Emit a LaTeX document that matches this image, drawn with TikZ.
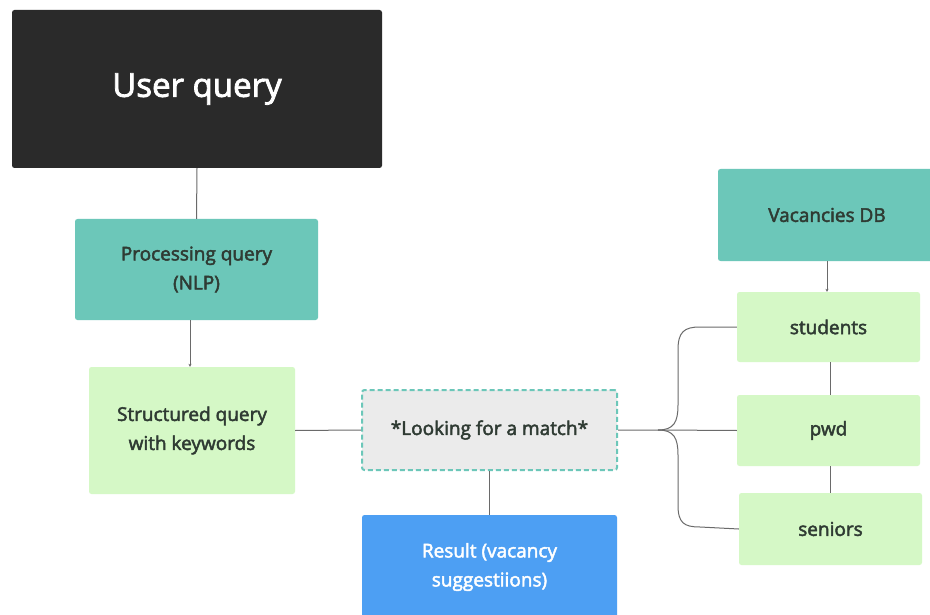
\documentclass[tikz,border=0pt]{standalone}
\usepackage{fontspec}
\setmainfont{Open Sans}[FakeBold=2.5]
\usetikzlibrary{arrows.meta}
\definecolor{darkbox}{HTML}{2A2A2A}
\definecolor{tealbox}{HTML}{6CC7B9}
\definecolor{greenbox}{HTML}{D5F8C6}
\definecolor{greybox}{HTML}{EBEBEB}
\definecolor{bluebox}{HTML}{4D9FF3}
\definecolor{linec}{HTML}{6A6A6A}
\definecolor{dashc}{HTML}{6CC7B9}
\definecolor{textdark}{HTML}{2F3B33}
\tikzset{
  box/.style={rounded corners=2.5pt, align=center, inner sep=0pt, font=\fontsize{19}{29}\selectfont},
  conn/.style={draw=linec, line width=1pt},
  tip/.style={conn, -{Stealth[length=3pt,width=3pt]}},
}
\begin{document}
\begin{tikzpicture}[x=1pt,y=-1pt]
\useasboundingbox (0,0) rectangle (930,615);
\fill[white] (0,0) rectangle (930,615);
% boxes
\node[box, fill=darkbox, minimum width=370pt, minimum height=158pt, text=white, font=\fontsize{33}{36}\selectfont] (user) at (197,89) {User query};
\node[box, fill=tealbox, minimum width=243pt, minimum height=101pt, text=textdark] (proc) at (196.5,269.5) {Processing query\\(NLP)};
\node[box, fill=greenbox, minimum width=206pt, minimum height=127pt, text=textdark] (struct) at (192,430.5) {Structured query\\with keywords};
\node[box, fill=greybox, draw=dashc, dash pattern=on 5pt off 3pt, line width=2pt, minimum width=255pt, minimum height=80pt, text=textdark] (match) at (489.5,430) {*Looking for a match*};
\node[box, fill=bluebox, minimum width=255pt, minimum height=104pt, text=white] (result) at (489.5,567) {Result (vacancy\\suggestiions)};
\node[box, fill=tealbox, minimum width=218pt, minimum height=92pt, text=textdark] (db) at (827,215) {Vacancies DB};
\node[box, fill=greenbox, minimum width=183pt, minimum height=70pt, text=textdark] (stud) at (828.5,327) {students};
\node[box, fill=greenbox, minimum width=183pt, minimum height=71pt, text=textdark] (pwd) at (828.5,430.5) {pwd};
\node[box, fill=greenbox, minimum width=183pt, minimum height=72pt, text=textdark] (sen) at (830.5,529) {seniors};
% connectors
\draw[conn] (user.south) -- (proc.north);
\draw[tip] (proc.south -| 190,0) -- (struct.north -| 190,0);
\draw[conn] (struct.east) -- (match.west);
\draw[conn] (match.south) -- (result.north);
\draw[tip] (db.south) -- (db.south |- stud.north);
\draw[conn] (stud.south -| 830,0) -- (pwd.north -| 830,0);
\draw[conn] (pwd.south -| 830,0) -- (sen.north -| 830,0);
\coordinate (br) at (658,430);
\draw[conn] (match.east) -- (br) -- (pwd.west);
\draw[conn] (br) .. controls (674,430) and (678,422) .. (678,405) -- (678,350) .. controls (678,332) and (684,327) .. (700,327) -- (stud.west);
\draw[conn] (br) .. controls (674,430) and (678,438) .. (678,455) -- (678,505) .. controls (678,523) and (684,527) .. (700,527) -- (sen.west);
\end{tikzpicture}
\end{document}
